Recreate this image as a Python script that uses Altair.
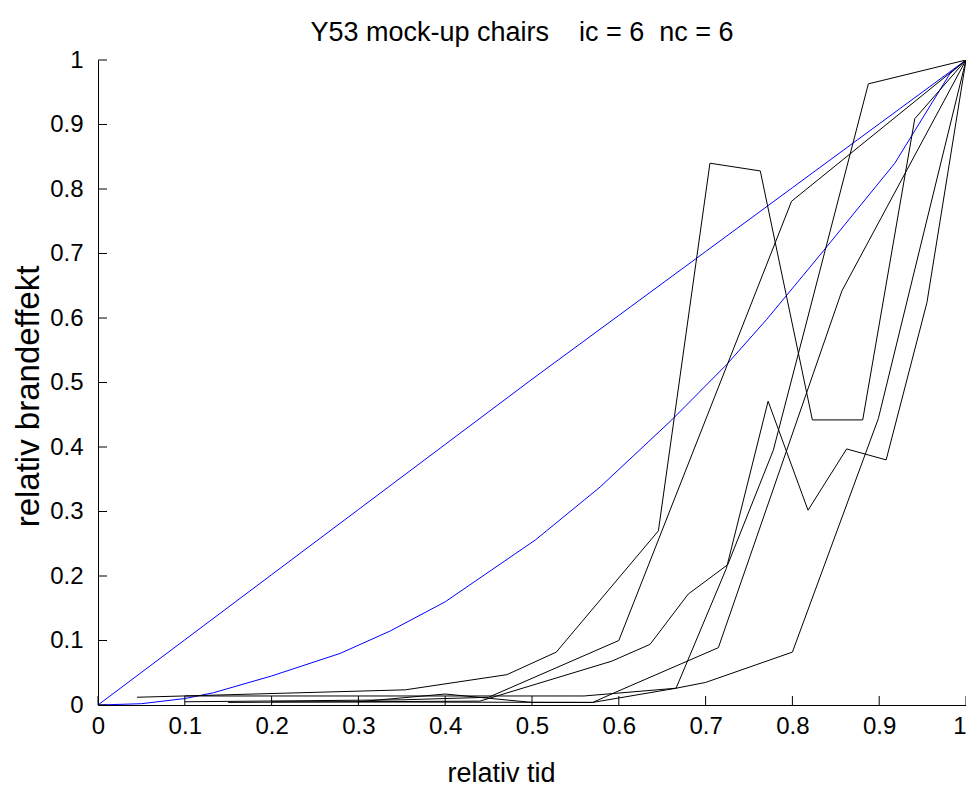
import altair as alt
import pandas as pd

# ---- data ----
blue1_x = [0.0, 0.1, 0.2, 0.3, 0.4, 0.5, 0.6, 0.7, 0.8, 0.9, 1.0]
blue1_y = [0.0, 0.101, 0.202, 0.303, 0.404, 0.505, 0.604, 0.703, 0.802, 0.901, 1.0]

blue2_x = [0.0, 0.05, 0.1, 0.133, 0.2, 0.279, 0.337, 0.4, 0.504, 0.5785, 0.661, 0.7244, 0.7705, 0.8357, 0.918, 0.9816, 1.0]
blue2_y = [0.0, 0.002, 0.01, 0.019, 0.045, 0.08, 0.115, 0.16, 0.256, 0.338, 0.442, 0.528, 0.598, 0.704, 0.84, 0.979, 1.0]

a_x = [0.045, 0.354, 0.471, 0.528, 0.6456, 0.705, 0.763, 0.823, 0.881, 0.941, 1.0]
a_y = [0.012, 0.0235, 0.047, 0.082, 0.27, 0.84, 0.828, 0.442, 0.442, 0.909, 1.0]

b_x = [0.10, 0.35, 0.45, 0.60, 0.799, 1.0]
b_y = [0.005, 0.008, 0.012, 0.10, 0.781, 1.0]

p_x = [0.15, 0.44, 0.592, 0.636, 0.680, 0.7255, 0.778, 0.8875, 1.0]
p_y = [0.004, 0.006, 0.068, 0.094, 0.172, 0.2175, 0.395, 0.963, 1.0]

q_x = [0.30, 0.40, 0.50, 0.57, 0.666, 0.724, 0.772, 0.818, 0.8625, 0.908, 0.955, 1.0]
q_y = [0.005, 0.017, 0.004, 0.004, 0.026, 0.212, 0.471, 0.302, 0.397, 0.380, 0.624, 1.0]

r_x = [0.20, 0.57, 0.596, 0.7147, 0.857, 1.0]
r_y = [0.005, 0.004, 0.0196, 0.0889, 0.642, 1.0]

d_x = [0.10, 0.56, 0.666, 0.70, 0.80, 0.899, 1.0]
d_y = [0.014, 0.014, 0.026, 0.035, 0.082, 0.444, 1.0]

tick_vals = [0.0, 0.1, 0.2, 0.3, 0.4, 0.5, 0.6, 0.7, 0.8, 0.9, 1.0]

series = [
    ("blue1", blue1_x, blue1_y),
    ("blue2", blue2_x, blue2_y),
    ("A", a_x, a_y),
    ("B", b_x, b_y),
    ("P", p_x, p_y),
    ("Q", q_x, q_y),
    ("R", r_x, r_y),
    ("D", d_x, d_y),
]
rows = []
for name, xs_, ys_ in series:
    for i, (x, y) in enumerate(zip(xs_, ys_)):
        rows.append({"s": name, "i": i, "x": x, "y": y})
df = pd.DataFrame(rows)

W, H = 868, 645
PAD_T, PAD_B = 52, 83
FONT = "Liberation Sans"
NB = "\u00a0"
TITLE = "Y53 mock-up chairs" + NB * 4 + "ic = 6" + NB * 2 + "nc = 6"

xs = alt.Scale(domain=[0, 1], nice=False)
ys = alt.Scale(domain=[0, 1], nice=False)

names = [s[0] for s in series]
colors = ["#0000ff", "#0000ff"] + ["#000000"] * 6

lines = alt.Chart(df).mark_line(strokeWidth=1, clip=True).encode(
    x=alt.X("x:Q", scale=xs, axis=alt.Axis(
        values=tick_vals, format="~g", title="relativ tid", ticks=False,
        labelPadding=9, grid=False, titleFontSize=27,
        labelAlign=alt.ExprRef(expr="datum.value >= 1 ? 'right' : 'center'"),
        titleX=403, titleY=PAD_B - 7, titleAlign="center",
        titleBaseline="alphabetic")),
    y=alt.Y("y:Q", scale=ys, axis=alt.Axis(
        values=tick_vals, format="~g", title="relativ brandeffekt", ticks=False,
        labelPadding=15, grid=False, titleFontSize=33,
        titleX=-70, titleY=336, titleAngle=-90, titleAlign="center",
        titleBaseline="middle")),
    color=alt.Color("s:N", scale=alt.Scale(domain=names, range=colors), legend=None),
    order="i:Q",
)

tdf = pd.DataFrame({"t": tick_vals})
xticks = alt.Chart(tdf).mark_rule(color="black", strokeWidth=1).encode(
    x=alt.X("t:Q", scale=xs), y=alt.value(H), y2=alt.value(H - 9))
yticks = alt.Chart(tdf).mark_rule(color="black", strokeWidth=1).encode(
    y=alt.Y("t:Q", scale=ys), x=alt.value(0), x2=alt.value(9))

chart = alt.layer(lines, xticks, yticks).properties(
    width=W, height=H,
    title=alt.TitleParams(TITLE, fontSize=27, font=FONT, fontWeight="normal",
                          color="black", offset=0, dx=-10, dy=-1),
    autosize="none",
    padding={"left": 90, "top": PAD_T, "right": 0, "bottom": PAD_B},
).configure_view(stroke=None).configure_axis(
    labelFont=FONT, titleFont=FONT, labelFontSize=24,
    titleFontWeight="normal", labelColor="black", titleColor="black",
    domainColor="black", domainWidth=1,
)

chart.save("out.html", embed_options={"renderer": "svg", "actions": False})
